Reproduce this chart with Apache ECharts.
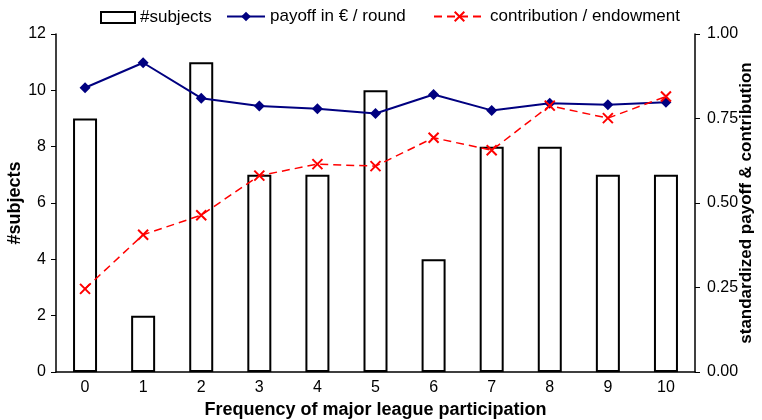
<!DOCTYPE html>
<html>
<head>
<meta charset="utf-8">
<script src="https://cdn.jsdelivr.net/npm/echarts@6/dist/echarts.min.js"></script>
<style>
  html, body { margin: 0; padding: 0; background: #fff; }
  #main { width: 762px; height: 420px; }
</style>
</head>
<body>
<div id="main"></div>
<script>
// data
var categories = ['0', '1', '2', '3', '4', '5', '6', '7', '8', '9', '10'];
var subjects = [9, 2, 11, 7, 7, 10, 4, 8, 8, 7, 7];
var payoff = [0.841, 0.915, 0.810, 0.787, 0.779, 0.765, 0.821, 0.774, 0.795, 0.791, 0.798];
var contribution = [0.246, 0.406, 0.464, 0.581, 0.615, 0.609, 0.693, 0.656, 0.788, 0.751, 0.815];

var font = 'Liberation Sans, Arial, sans-serif';
var crossPath = 'path://M0,0L10,10M10,0L0,10';
var legendText = { fontSize: 17, color: '#000', fontFamily: font };

var myChart = echarts.init(document.getElementById('main'));
var options = {
  animation: false,
  textStyle: { fontFamily: font },
  legend: [
    {
      data: [{ name: '#subjects', icon: 'rect' }],
      left: 95, top: 4,
      itemWidth: 34, itemHeight: 11, itemGap: 0,
      textStyle: legendText
    },
    {
      data: ['payoff in € / round'],
      left: 221, top: 3,
      itemWidth: 38, itemHeight: 12,
      textStyle: legendText
    },
    {
      data: ['contribution / endowment'],
      left: 428, top: 3,
      itemWidth: 51, itemHeight: 12,
      textStyle: legendText
    }
  ],
  grid: { left: 56, right: 67, top: 34, bottom: 48, outerBoundsMode: 'none' },
  xAxis: {
    type: 'category',
    data: categories,
    name: 'Frequency of major league participation',
    nameLocation: 'middle',
    nameGap: 29,
    nameMoveOverlap: false,
    nameTextStyle: { fontSize: 18, fontWeight: 'bold', color: '#000', fontFamily: font },
    axisLine: { lineStyle: { color: '#000', width: 1.5 } },
    axisTick: { length: 6, lineStyle: { color: '#000' } },
    axisLabel: { fontSize: 16, color: '#000', margin: 8 }
  },
  yAxis: [
    {
      type: 'value',
      min: 0, max: 12, interval: 2,
      name: '#subjects',
      nameLocation: 'middle',
      nameGap: 32,
      nameMoveOverlap: false,
      nameTextStyle: { fontSize: 18, fontWeight: 'bold', color: '#000', fontFamily: font },
      axisLine: { show: true, lineStyle: { color: '#000', width: 1.5 } },
      axisTick: { show: true, length: 5, lineStyle: { color: '#000' } },
      axisLabel: { fontSize: 16, color: '#000', margin: 10 },
      splitLine: { show: false }
    },
    {
      type: 'value',
      min: 0, max: 1, interval: 0.25,
      name: 'standardized payoff & contribution',
      nameLocation: 'middle',
      nameGap: 43,
      nameRotate: 90,
      nameMoveOverlap: false,
      nameTextStyle: { fontSize: 17, fontWeight: 'bold', color: '#000', fontFamily: font },
      axisLine: { show: true, lineStyle: { color: '#000', width: 1.5 } },
      axisTick: { show: true, length: 5, lineStyle: { color: '#000' } },
      axisLabel: {
        fontSize: 16, color: '#000', margin: 12,
        formatter: function (v) { return v.toFixed(2); }
      },
      splitLine: { show: false }
    }
  ],
  series: [
    {
      name: '#subjects',
      type: 'bar',
      yAxisIndex: 0,
      data: subjects,
      barWidth: 24,
      itemStyle: { color: '#fff', borderColor: '#000', borderWidth: 2 },
      z: 1
    },
    {
      name: 'payoff in € / round',
      type: 'line',
      yAxisIndex: 1,
      data: payoff,
      symbol: 'diamond',
      symbolSize: 11,
      lineStyle: { color: '#000080', width: 2 },
      itemStyle: { color: '#000080' },
      z: 3
    },
    {
      name: 'contribution / endowment',
      type: 'line',
      yAxisIndex: 1,
      data: contribution,
      symbol: crossPath,
      symbolSize: 10,
      lineStyle: { color: '#ff0000', width: 1.5, type: [8, 5] },
      itemStyle: { color: 'none', borderColor: '#ff0000', borderWidth: 2 },
      z: 4
    }
  ]
};
myChart.setOption(options);
</script>
</body>
</html>
